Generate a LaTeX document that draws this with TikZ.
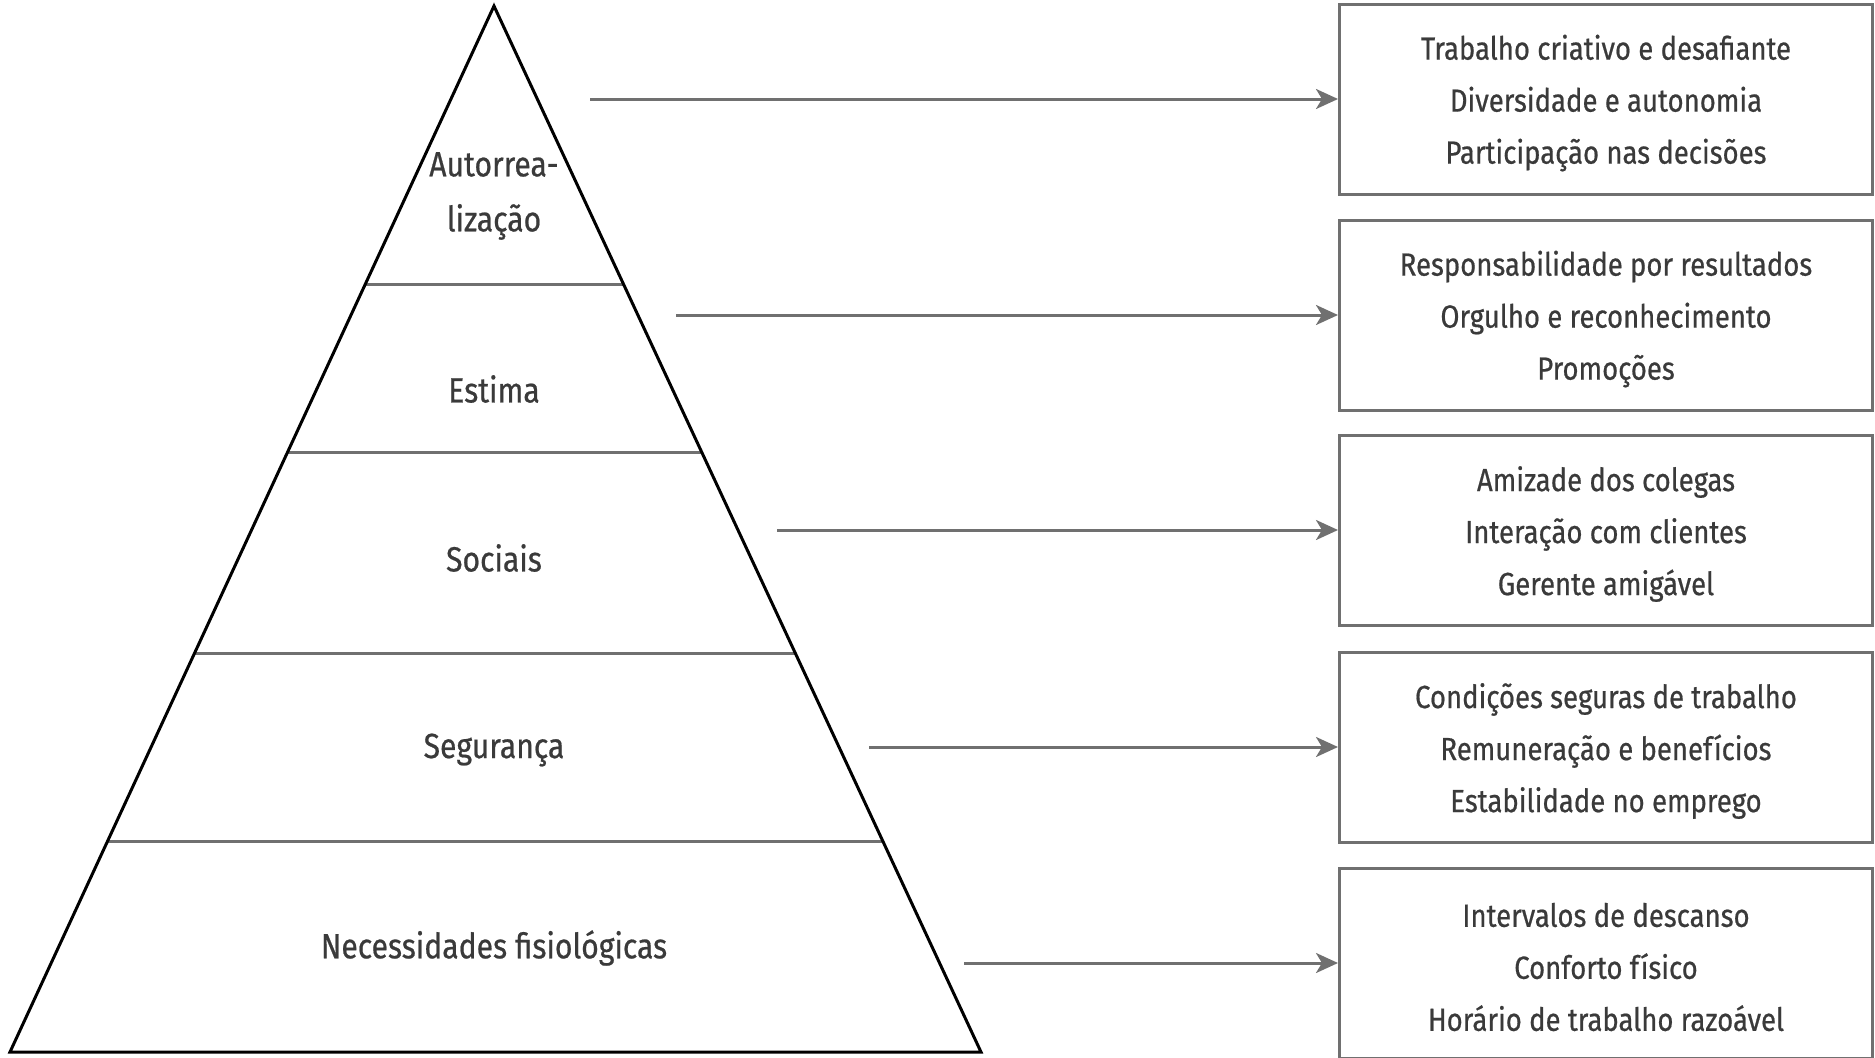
\documentclass[tikz,border=0pt]{standalone}
\usepackage{fontspec}
\setmainfont{Fira Sans}[FakeStretch=0.86,FakeBold=0.6]
\usetikzlibrary{calc,arrows.meta}
\definecolor{linegray}{HTML}{707070}
\definecolor{textgray}{HTML}{3A3A3A}
\tikzset{
  pyr/.style={draw=black, line width=3pt, line join=miter},
  level/.style={draw=linegray, line width=3pt},
  lbl/.style={text=textgray, font=\fontsize{35}{55}\selectfont, align=center, inner sep=0pt},
  infobox/.style={draw=linegray, line width=3pt, minimum width=533pt, minimum height=190pt, inner sep=0pt},
  boxtext/.style={text=textgray, font=\fontsize{32}{52}\selectfont, align=center, inner sep=0pt},
  conn/.style={draw=linegray, line width=3pt, -{Stealth[length=22pt,width=20pt,inset=6pt]}},
}
\begin{document}
\begin{tikzpicture}[x=1pt,y=-1pt]
\useasboundingbox (0,0) rectangle (1875,1058);
\coordinate (apex) at (494,6);
\coordinate (bl) at (10,1052);
\coordinate (br) at (981,1052);
% level lines
\foreach \t in {0.2667,0.4273,0.6186,0.7983}
  \draw[level] ($(apex)!\t!(bl)$) -- ($(apex)!\t!(br)$);
\draw[pyr] (apex) -- (bl) -- (br) -- cycle;
% pyramid labels
\node[lbl] (auto) at (494,196) {Autorrea-\\lização};
\node[lbl] (est) at (494,389) {Estima};
\node[lbl] (soc) at (494,558) {Sociais};
\node[lbl] (seg) at (494,750) {Segurança};
\node[lbl] (nec) at (494,948) {Necessidades fisiológicas};
% boxes
\node[infobox] (b1) at (1606,99) {};
\node[infobox] (b2) at (1606,315) {};
\node[infobox] (b3) at (1606,530) {};
\node[infobox] (b4) at (1606,747) {};
\node[infobox] (b5) at (1606,963) {};
\node[boxtext] (t1) at ([yshift=-4pt]b1.center) {Trabalho criativo e desafiante\\Diversidade e autonomia\\Participação nas decisões};
\node[boxtext] (t2) at ([yshift=-4pt]b2.center) {Responsabilidade por resultados\\Orgulho e reconhecimento\\Promoções};
\node[boxtext] (t3) at ([yshift=-4pt]b3.center) {Amizade dos colegas\\Interação com clientes\\Gerente amigável};
\node[boxtext] (t4) at ([yshift=-4pt]b4.center) {Condições seguras de trabalho\\Remuneração e benefícios\\Estabilidade no emprego};
\node[boxtext] (t5) at ([yshift=-4pt]b5.center) {Intervalos de descanso\\Conforto físico\\Horário de trabalho razoável};
% arrows
\coordinate (s1) at (590,99);
\coordinate (s2) at (676,315);
\coordinate (s3) at (777,530);
\coordinate (s4) at (869,747);
\coordinate (s5) at (964,963);
\foreach \i in {1,...,5}
  \draw[conn] (s\i) -- (b\i.west);
\end{tikzpicture}
\end{document}
